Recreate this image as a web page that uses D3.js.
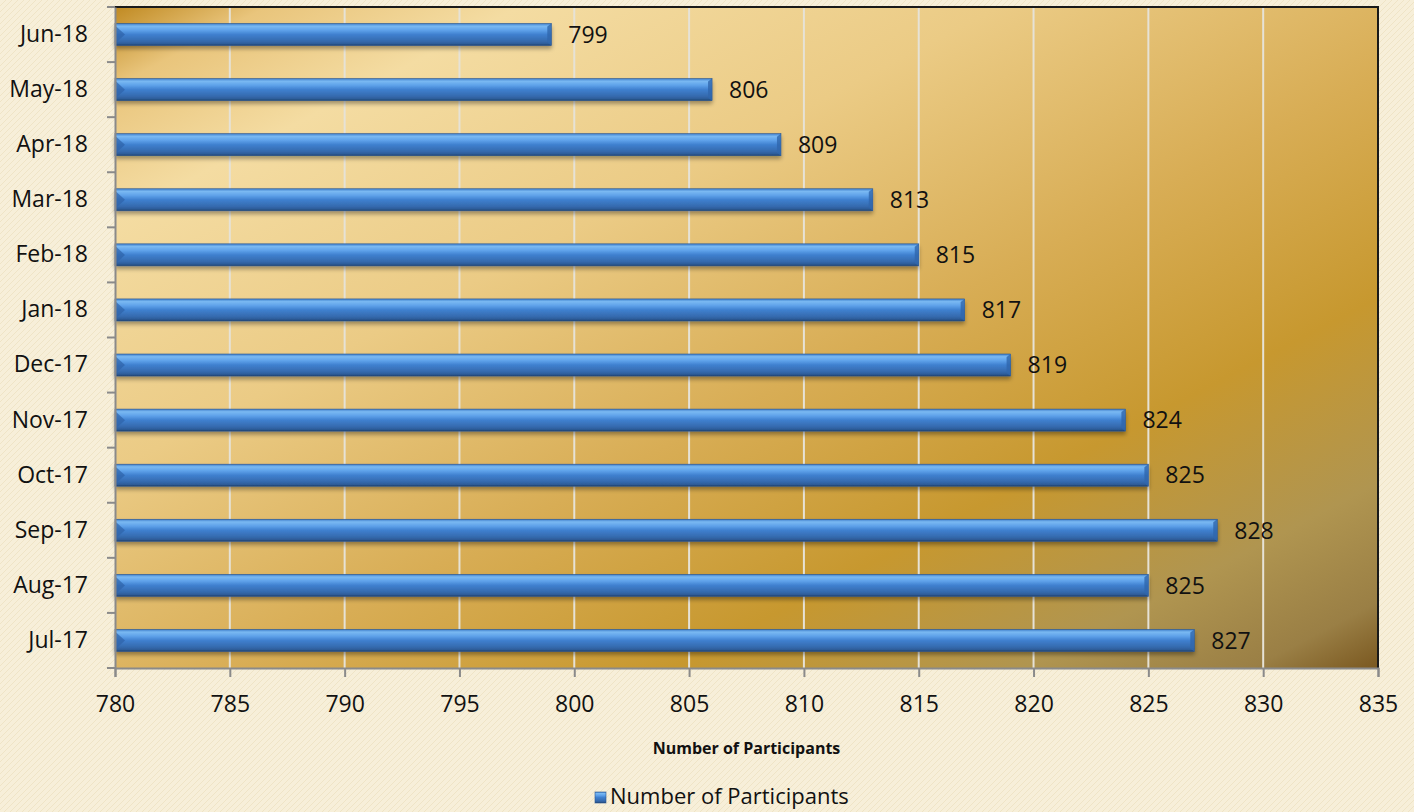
<!DOCTYPE html>
<html><head><meta charset="utf-8">
<script src="https://cdn.jsdelivr.net/npm/d3@7"></script>
<style>
html,body{margin:0;padding:0;background:#f6eed6;}
svg{display:block;font-family:"Open Sans",sans-serif;}
</style></head>
<body>
<svg id="c" width="1414" height="812"></svg>
<script>
const categories = ["Jun-18","May-18","Apr-18","Mar-18","Feb-18","Jan-18","Dec-17","Nov-17","Oct-17","Sep-17","Aug-17","Jul-17"];
const values = [799,806,809,813,815,817,819,824,825,828,825,827];
const xTicks = [780,785,790,795,800,805,810,815,820,825,830,835];
const seriesName = "Number of Participants";
const axisTitle = "Number of Participants";

const W=1414,H=812;
const m={l:115,r:36,t:7,b:144};
const FONT="'Open Sans',sans-serif";
const svg=d3.select("#c");
const defs=svg.append("defs");

// parchment texture
const pat=defs.append("pattern").attr("id","parch").attr("width",6).attr("height",6).attr("patternUnits","userSpaceOnUse");
pat.append("rect").attr("width",6).attr("height",6).attr("fill","#f7efd9");
pat.append("path").attr("d","M0,6 L6,0").attr("stroke","#efe4c6").attr("stroke-width",1);
svg.append("rect").attr("width",W).attr("height",H).attr("fill","url(#parch)");

const pg=defs.append("linearGradient").attr("id","plotbg").attr("x1",0).attr("y1",0).attr("x2",1).attr("y2",1);
[[0,"#c08a22"],[0.06,"#e9c57c"],[0.16,"#f4dca2"],[0.35,"#ebcb85"],[0.55,"#d8ad55"],[0.72,"#c7982f"],[0.86,"#b09550"],[0.95,"#9a7f45"],[1,"#7a5820"]]
 .forEach(s=>pg.append("stop").attr("offset",s[0]).attr("stop-color",s[1]));

const bg=defs.append("linearGradient").attr("id","bar").attr("x1",0).attr("y1",0).attr("x2",0).attr("y2",1);
[[0,"#3f7fcc"],[0.12,"#7ab9f2"],[0.3,"#5fa2ea"],[0.5,"#3f80cf"],[0.8,"#356aae"],[0.92,"#2d5c98"],[1,"#1f3f6a"]]
 .forEach(s=>bg.append("stop").attr("offset",s[0]).attr("stop-color",s[1]));

const sh=defs.append("filter").attr("id","sh").attr("x","-5%").attr("y","-50%").attr("width","110%").attr("height","250%");
sh.append("feGaussianBlur").attr("in","SourceAlpha").attr("stdDeviation",2);
sh.append("feOffset").attr("dy",3).attr("result","b");
sh.append("feComponentTransfer").append("feFuncA").attr("type","linear").attr("slope",0.35);
const mg=sh.append("feMerge");mg.append("feMergeNode");mg.append("feMergeNode").attr("in","SourceGraphic");

const x=d3.scaleLinear().domain([780,835]).range([m.l,W-m.r]);
const y=d3.scaleBand().domain(categories).range([m.t,H-m.b]).paddingInner(0.6).paddingOuter(0.3);
const yb=d3.scaleBand().domain(categories).range([m.t,H-m.b]);

const pw=x(835)-x(780), ph=(H-m.b)-m.t;
svg.append("rect").attr("x",m.l).attr("y",m.t).attr("width",pw).attr("height",ph).attr("fill","url(#plotbg)");

// gridlines
svg.append("g").selectAll("line").data(xTicks.slice(1,-1)).join("line")
 .attr("x1",d=>x(d)).attr("x2",d=>x(d)).attr("y1",m.t).attr("y2",H-m.b)
 .attr("stroke","#e6e2d6").attr("stroke-width",2);

// border top/right
svg.append("path").attr("d",`M${m.l},${m.t}H${x(835)}V${H-m.b}`).attr("fill","none").attr("stroke","#1a1a1a").attr("stroke-width",2);

// bars
const bars=svg.append("g").selectAll("g").data(categories).join("g").attr("filter","url(#sh)");
bars.append("rect").attr("x",x(780)).attr("y",d=>y(d)).attr("height",y.bandwidth())
 .attr("width",(d,i)=>x(values[i])-x(780)).attr("fill","url(#bar)").attr("stroke","#2a5590").attr("stroke-width",0.6);
// end bevel
bars.append("path").attr("d",(d,i)=>{const xe=x(values[i]),y0=y(d),h=y.bandwidth();return `M${xe-4},${y0+3}L${xe},${y0}L${xe},${y0+h}L${xe-4},${y0+h-3}Z`;})
 .attr("fill","#2f66ad").attr("opacity",0.8);
bars.append("path").attr("d",(d)=>{const xs=x(780),y0=y(d),h=y.bandwidth();return `M${xs},${y0+2}L${xs+10},${y0+h/2}L${xs},${y0+h-2}Z`;})
 .attr("fill","#2d62a8").attr("opacity",0.7);

// value labels
svg.append("g").selectAll("text").data(categories).join("text")
 .attr("x",(d,i)=>x(values[i])+17).attr("y",d=>y(d)+y.bandwidth()/2).attr("dy","0.36em")
 .attr("font-size",23).attr("font-family",FONT).attr("fill","#111").text((d,i)=>values[i]);

// axes
const ax=svg.append("g").attr("transform",`translate(0,${H-m.b})`)
 .call(d3.axisBottom(x).tickValues(xTicks).tickSize(9).tickPadding(19).tickFormat(d3.format("d")));
ax.select(".domain").attr("stroke","#8a8a8a").attr("stroke-width",2);
ax.selectAll(".tick line").attr("stroke","#8a8a8a").attr("stroke-width",2);
ax.selectAll("text").attr("font-size",23).attr("fill","#111").attr("font-family",FONT);

const ay=svg.append("g").attr("transform",`translate(${m.l},0)`)
 .call(d3.axisLeft(y).tickSize(0).tickPadding(27));
ay.select(".domain").attr("stroke","#8a8a8a").attr("stroke-width",2);
ay.selectAll("text").attr("font-size",23).attr("fill","#111").attr("font-family",FONT);
svg.append("g").selectAll("line").data(categories.concat(["_end"])).join("line")
 .attr("x1",m.l-8).attr("x2",m.l).attr("y1",(d,i)=>m.t+i*yb.step()).attr("y2",(d,i)=>m.t+i*yb.step())
 .attr("stroke","#8a8a8a").attr("stroke-width",2);

// axis title
svg.append("text").attr("x",(x(780)+x(835))/2).attr("y",754).attr("text-anchor","middle")
 .attr("font-size",16).attr("font-weight","bold").attr("font-family",FONT).attr("fill","#111").text(axisTitle);

// legend
const lg=svg.append("g").attr("transform","translate(595,792)");
lg.append("rect").attr("x",0).attr("y",0).attr("width",11).attr("height",11).attr("fill","url(#bar)").attr("stroke","#2a5590").attr("stroke-width",0.6);
lg.append("text").attr("x",15).attr("y",12).attr("font-size",22).attr("font-family",FONT).attr("fill","#111").text(seriesName);
</script>
</body></html>
